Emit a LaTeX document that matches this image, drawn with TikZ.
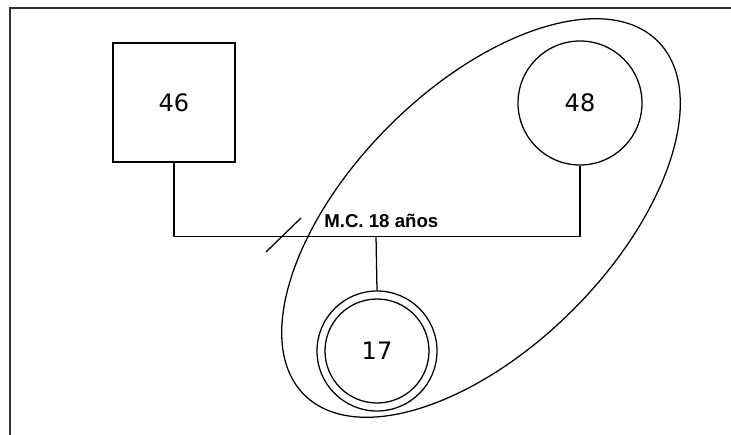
\documentclass[tikz,border=0pt]{standalone}
\usepackage{fontspec}
\setmainfont{DejaVu Sans}
\newfontfamily\labelfont{Liberation Sans}
\usetikzlibrary{shapes.geometric}
\begin{document}
\begin{tikzpicture}[x=0.75pt,y=-0.75pt,
  person/.style={draw, line width=0.95pt, inner sep=0pt, font=\fontsize{18}{21}\selectfont},
  link/.style={line width=0.95pt},
  frameline/.style={line width=1.5pt, draw=black!80}]
  \useasboundingbox (0,0) rectangle (731,435);
  % outer frame (top and left edges)
  \draw[frameline] (9,8) -- (731,8);
  \draw[frameline] (10,8) -- (10,435);
  % father, mother
  \node[person, rectangle, minimum width=91.5pt, minimum height=89.25pt] (p46) at (174,102.5) {46};
  \node[person, circle, minimum size=93pt] (p48) at (580,103) {48};
  % child: double circle
  \node[person, circle, minimum size=90pt] (c17out) at (377,351) {};
  \node[person, circle, minimum size=78pt] (c17) at (377,351) {17};
  % household grouping
  \node[draw, line width=0.95pt, ellipse, minimum width=375pt, minimum height=195pt,
        inner sep=0pt, rotate=45] (home) at (481,218) {};
  % marriage line
  \coordinate (mc) at (376,236);
  \draw[link] (p46.south) -- ++(0,74) -| (p48.south);
  \draw[link] (mc) -- (c17out.north);
  % separation mark
  \coordinate (s1) at (266,252);
  \coordinate (s2) at (301,218);
  \draw[link] (s1) -- (s2);
  \node[anchor=base west, inner sep=0pt, font=\labelfont\bfseries\fontsize{14}{17}\selectfont] (lbl) at (324,227) {M.C. 18 años};
\end{tikzpicture}
\end{document}
